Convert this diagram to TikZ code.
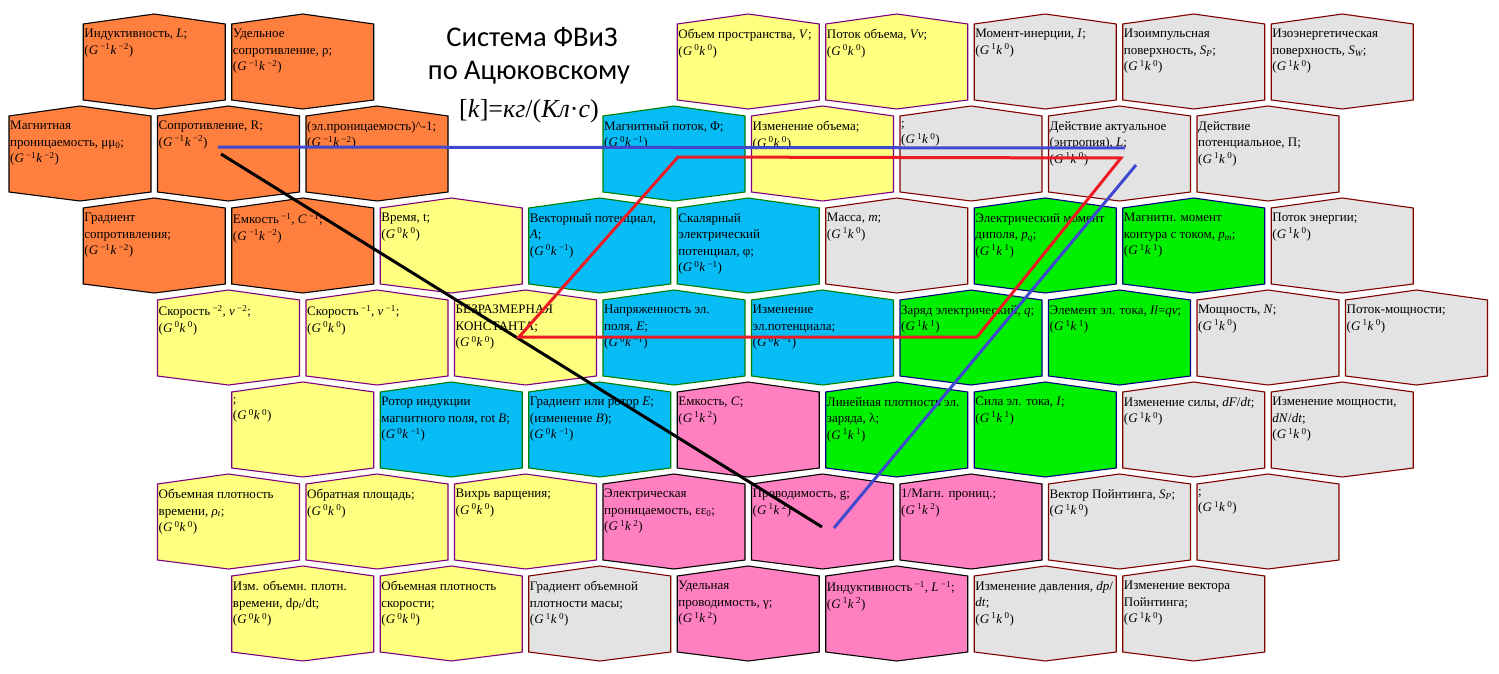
\documentclass[tikz,border=0pt]{standalone}
\usepackage{fontspec}
\setmainfont{Liberation Serif}
\newfontfamily\titlefont{Carlito}
\usetikzlibrary{calc}

\definecolor{orangecell}{RGB}{255,127,63}
\definecolor{yellowcell}{RGB}{255,255,128}
\definecolor{bluecell}{RGB}{8,188,245}
\definecolor{graycell}{RGB}{227,227,227}
\definecolor{greencell}{RGB}{0,240,0}
\definecolor{pinkcell}{RGB}{255,128,192}
\definecolor{purpleedge}{RGB}{128,0,128}
\definecolor{greenedge}{RGB}{0,128,0}
\definecolor{rededge}{RGB}{128,0,0}
\definecolor{navyedge}{RGB}{0,0,128}
\definecolor{redline}{RGB}{237,28,36}
\definecolor{blueline}{RGB}{64,72,208}

\tikzset{
  orangehex/.style={fill=orangecell,draw=black},
  yellowhex/.style={fill=yellowcell,draw=purpleedge},
  bluehex/.style={fill=bluecell,draw=greenedge},
  grayhex/.style={fill=graycell,draw=rededge},
  greenhex/.style={fill=greencell,draw=navyedge},
  pinkhex/.style={fill=pinkcell,draw=black},
  celltext/.style={anchor=north west,align=left,inner xsep=1pt,inner ysep=5pt,
    font=\fontsize{13}{16.5}\selectfont},
  trace/.style={line width=3pt}
}

\newcommand{\gk}[2]{(\textit{G}\,\textsuperscript{#1}\textit{k}\,\textsuperscript{#2})}
% #1 ряд, #2 полуколонка, #3 стиль, #4 имя, #5 текст
\newcommand{\hexcell}[5]{%
  \pgfmathsetmacro{\cellx}{9+74.25*#2}%
  \pgfmathsetmacro{\celly}{24+92*#1}%
  \draw[#3,line width=1.1pt] (\cellx,\celly) -- ++(71,-10) -- ++(71,10)
    -- ++(0,76) -- ++(-71,9) -- ++(-71,-9) -- cycle;
  \node[celltext] (#4) at (\cellx,\celly) {#5};%
}

\begin{document}
\begin{tikzpicture}[x=1pt,y=-1pt]
  \useasboundingbox (0,0) rectangle (1499,674);

  % заголовок
  \node[font=\titlefont\fontsize{28.5}{33}\selectfont,anchor=base] (title1) at (532,47) {Система ФВиЗ};
  \node[font=\titlefont\fontsize{28.5}{33}\selectfont,anchor=base] (title2) at (529,80) {по Ацюковскому};
  \node[font=\fontsize{26}{30}\selectfont,anchor=base] (unitk) at (529,118)
    {[\textit{k}]=\textit{кг}/(\textit{Кл}·\textit{с})};

  % ряд 1
  \hexcell{0}{1}{orangehex}{induct}{Индуктивность, \textit{L};\\\gk{−1}{−2}}
  \hexcell{0}{3}{orangehex}{udsopr}{Удельное\\сопротивление, ρ;\\\gk{−1}{−2}}
  \hexcell{0}{9}{yellowhex}{obem}{Объем пространства, \textit{V};\\\gk{0}{0}}
  \hexcell{0}{11}{yellowhex}{potobem}{Поток объема, \textit{Vv};\\\gk{0}{0}}
  \hexcell{0}{13}{grayhex}{moment}{Момент-инерции, \textit{I};\\\gk{1}{0}}
  \hexcell{0}{15}{grayhex}{izoimp}{Изоимпульсная\\поверхность, \textit{S\textsubscript{P}};\\\gk{1}{0}}
  \hexcell{0}{17}{grayhex}{izoen}{Изоэнергетическая\\поверхность, \textit{S\textsubscript{W}};\\\gk{1}{0}}

  % ряд 2
  \hexcell{1}{0}{orangehex}{magpron}{Магнитная\\проницаемость, μμ\textsubscript{0};\\\gk{−1}{−2}}
  \hexcell{1}{2}{orangehex}{sopr}{Сопротивление, R;\\\gk{−1}{−2}}
  \hexcell{1}{4}{orangehex}{elpron}{(эл.проницаемость)\^{}-1;\\\gk{−1}{−2}}
  \hexcell{1}{8}{bluehex}{magpot}{Магнитный поток, Φ;\\\gk{0}{−1}}
  \hexcell{1}{10}{yellowhex}{izmobem}{Изменение объема;\\\gk{0}{0}}
  \hexcell{1}{12}{grayhex}{pustA}{;\\\gk{1}{0}}
  \hexcell{1}{14}{grayhex}{deistakt}{Действие актуальное\\(энтропия), \textit{L};\\\gk{1}{0}}
  \hexcell{1}{16}{grayhex}{deistpot}{Действие\\потенциальное, Π;\\\gk{1}{0}}

  % ряд 3
  \hexcell{2}{1}{orangehex}{gradsopr}{Градиент\\сопротивления;\\\gk{−1}{−2}}
  \hexcell{2}{3}{orangehex}{emkinv}{Емкость\textsuperscript{ −1}, \textit{C}\textsuperscript{ −1};\\\gk{−1}{−2}}
  \hexcell{2}{5}{yellowhex}{vremya}{Время, t;\\\gk{0}{0}}
  \hexcell{2}{7}{bluehex}{vekpot}{Векторный потенциал,\\\textit{A};\\\gk{0}{−1}}
  \hexcell{2}{9}{bluehex}{skalpot}{Скалярный\\электрический\\потенциал, φ;\\\gk{0}{−1}}
  \hexcell{2}{11}{grayhex}{massa}{Масса, \textit{m};\\\gk{1}{0}}
  \hexcell{2}{13}{greenhex}{eldip}{Электрический момент\\диполя, \textit{p\textsubscript{q}};\\\gk{1}{1}}
  \hexcell{2}{15}{greenhex}{magmom}{Магнитн. момент\\контура с током, \textit{p\textsubscript{m}};\\\gk{1}{1}}
  \hexcell{2}{17}{grayhex}{potenerg}{Поток энергии;\\\gk{1}{0}}

  % ряд 4
  \hexcell{3}{2}{yellowhex}{skor2}{Скорость\textsuperscript{ −2}, \textit{v}\textsuperscript{ −2};\\\gk{0}{0}}
  \hexcell{3}{4}{yellowhex}{skor1}{Скорость\textsuperscript{ −1}, \textit{v}\textsuperscript{ −1};\\\gk{0}{0}}
  \hexcell{3}{6}{yellowhex}{konst}{БЕЗРАЗМЕРНАЯ\\КОНСТАНТА;\\\gk{0}{0}}
  \hexcell{3}{8}{bluehex}{napr}{Напряженность эл.\\поля, \textit{E};\\\gk{0}{−1}}
  \hexcell{3}{10}{bluehex}{izmpot}{Изменение\\эл.потенциала;\\\gk{0}{−1}}
  \hexcell{3}{12}{greenhex}{zaryad}{Заряд электрический, \textit{q};\\\gk{1}{1}}
  \hexcell{3}{14}{greenhex}{elemtok}{Элемент эл. тока, \textit{Il}=\textit{qv};\\\gk{1}{1}}
  \hexcell{3}{16}{grayhex}{moshch}{Мощность, \textit{N};\\\gk{1}{0}}
  \hexcell{3}{18}{grayhex}{potmosh}{Поток-мощности;\\\gk{1}{0}}

  % ряд 5
  \hexcell{4}{3}{yellowhex}{pustB}{;\\\gk{0}{0}}
  \hexcell{4}{5}{bluehex}{rotind}{Ротор индукции\\магнитного поля, rot \textit{B};\\\gk{0}{−1}}
  \hexcell{4}{7}{bluehex}{gradrot}{Градиент или ротор \textit{E};\\(изменение \textit{B});\\\gk{0}{−1}}
  \hexcell{4}{9}{pinkhex}{emkost}{Емкость, \textit{C};\\\gk{1}{2}}
  \hexcell{4}{11}{greenhex}{linpl}{Линейная плотность эл.\\заряда, λ;\\\gk{1}{1}}
  \hexcell{4}{13}{greenhex}{silatok}{Сила эл. тока, \textit{I};\\\gk{1}{1}}
  \hexcell{4}{15}{grayhex}{izmsil}{Изменение силы, \textit{dF}/\textit{dt};\\\gk{1}{0}}
  \hexcell{4}{17}{grayhex}{izmmosh}{Изменение мощности,\\\textit{dN}/\textit{dt};\\\gk{1}{0}}

  % ряд 6
  \hexcell{5}{2}{yellowhex}{plvrem}{Объемная плотность\\времени, \textit{ρ\textsubscript{t}};\\\gk{0}{0}}
  \hexcell{5}{4}{yellowhex}{obrpl}{Обратная площадь;\\\gk{0}{0}}
  \hexcell{5}{6}{yellowhex}{vikhr}{Вихрь варщения;\\\gk{0}{0}}
  \hexcell{5}{8}{pinkhex}{elpr}{Электрическая\\проницаемость, εε\textsubscript{0};\\\gk{1}{2}}
  \hexcell{5}{10}{pinkhex}{provod}{Проводимость, g;\\\gk{1}{2}}
  \hexcell{5}{12}{pinkhex}{invmag}{1/Магн. прониц.;\\\gk{1}{2}}
  \hexcell{5}{14}{grayhex}{poynt}{Вектор Пойнтинга, \textit{S\textsubscript{P}};\\\gk{1}{0}}
  \hexcell{5}{16}{grayhex}{pustC}{;\\\gk{1}{0}}

  % ряд 7
  \hexcell{6}{3}{yellowhex}{izmplvr}{Изм. объемн. плотн.\\времени, dρ\textsubscript{\textit{t}}/dt;\\\gk{0}{0}}
  \hexcell{6}{5}{yellowhex}{plskor}{Объемная плотность\\скорости;\\\gk{0}{0}}
  \hexcell{6}{7}{grayhex}{gradmas}{Градиент объемной\\плотности масы;\\\gk{1}{0}}
  \hexcell{6}{9}{pinkhex}{udprov}{Удельная\\проводимость, γ;\\\gk{1}{2}}
  \hexcell{6}{11}{pinkhex}{indinv}{Индуктивность\textsuperscript{ −1}, \textit{L}\textsuperscript{ −1};\\\gk{1}{2}}
  \hexcell{6}{13}{grayhex}{izmdavl}{Изменение давления, \textit{dp}/\\\textit{dt};\\\gk{1}{0}}
  \hexcell{6}{15}{grayhex}{izmpoynt}{Изменение вектора\\Пойнтинга;\\\gk{1}{0}}

  % линии
  \coordinate (blueA) at (218,147);
  \coordinate (blueB) at (1125,148);
  \coordinate (blueC) at (1136,165);
  \coordinate (blueD) at (834,528);
  \coordinate (blackA) at (221,154);
  \coordinate (blackB) at (822,527);
  \coordinate (redA) at (519,337);
  \coordinate (redB) at (678,157);
  \coordinate (redC) at (1121,158);
  \coordinate (redD) at (977,337);
  \draw[trace,blueline] (blueA) -- (blueB);
  \draw[trace,blueline] (blueC) -- (blueD);
  \draw[trace,black] (blackA) -- (blackB);
  \draw[trace,redline] (redA) -- (redB) -- (redC) -- (redD) -- cycle;
\end{tikzpicture}
\end{document}
